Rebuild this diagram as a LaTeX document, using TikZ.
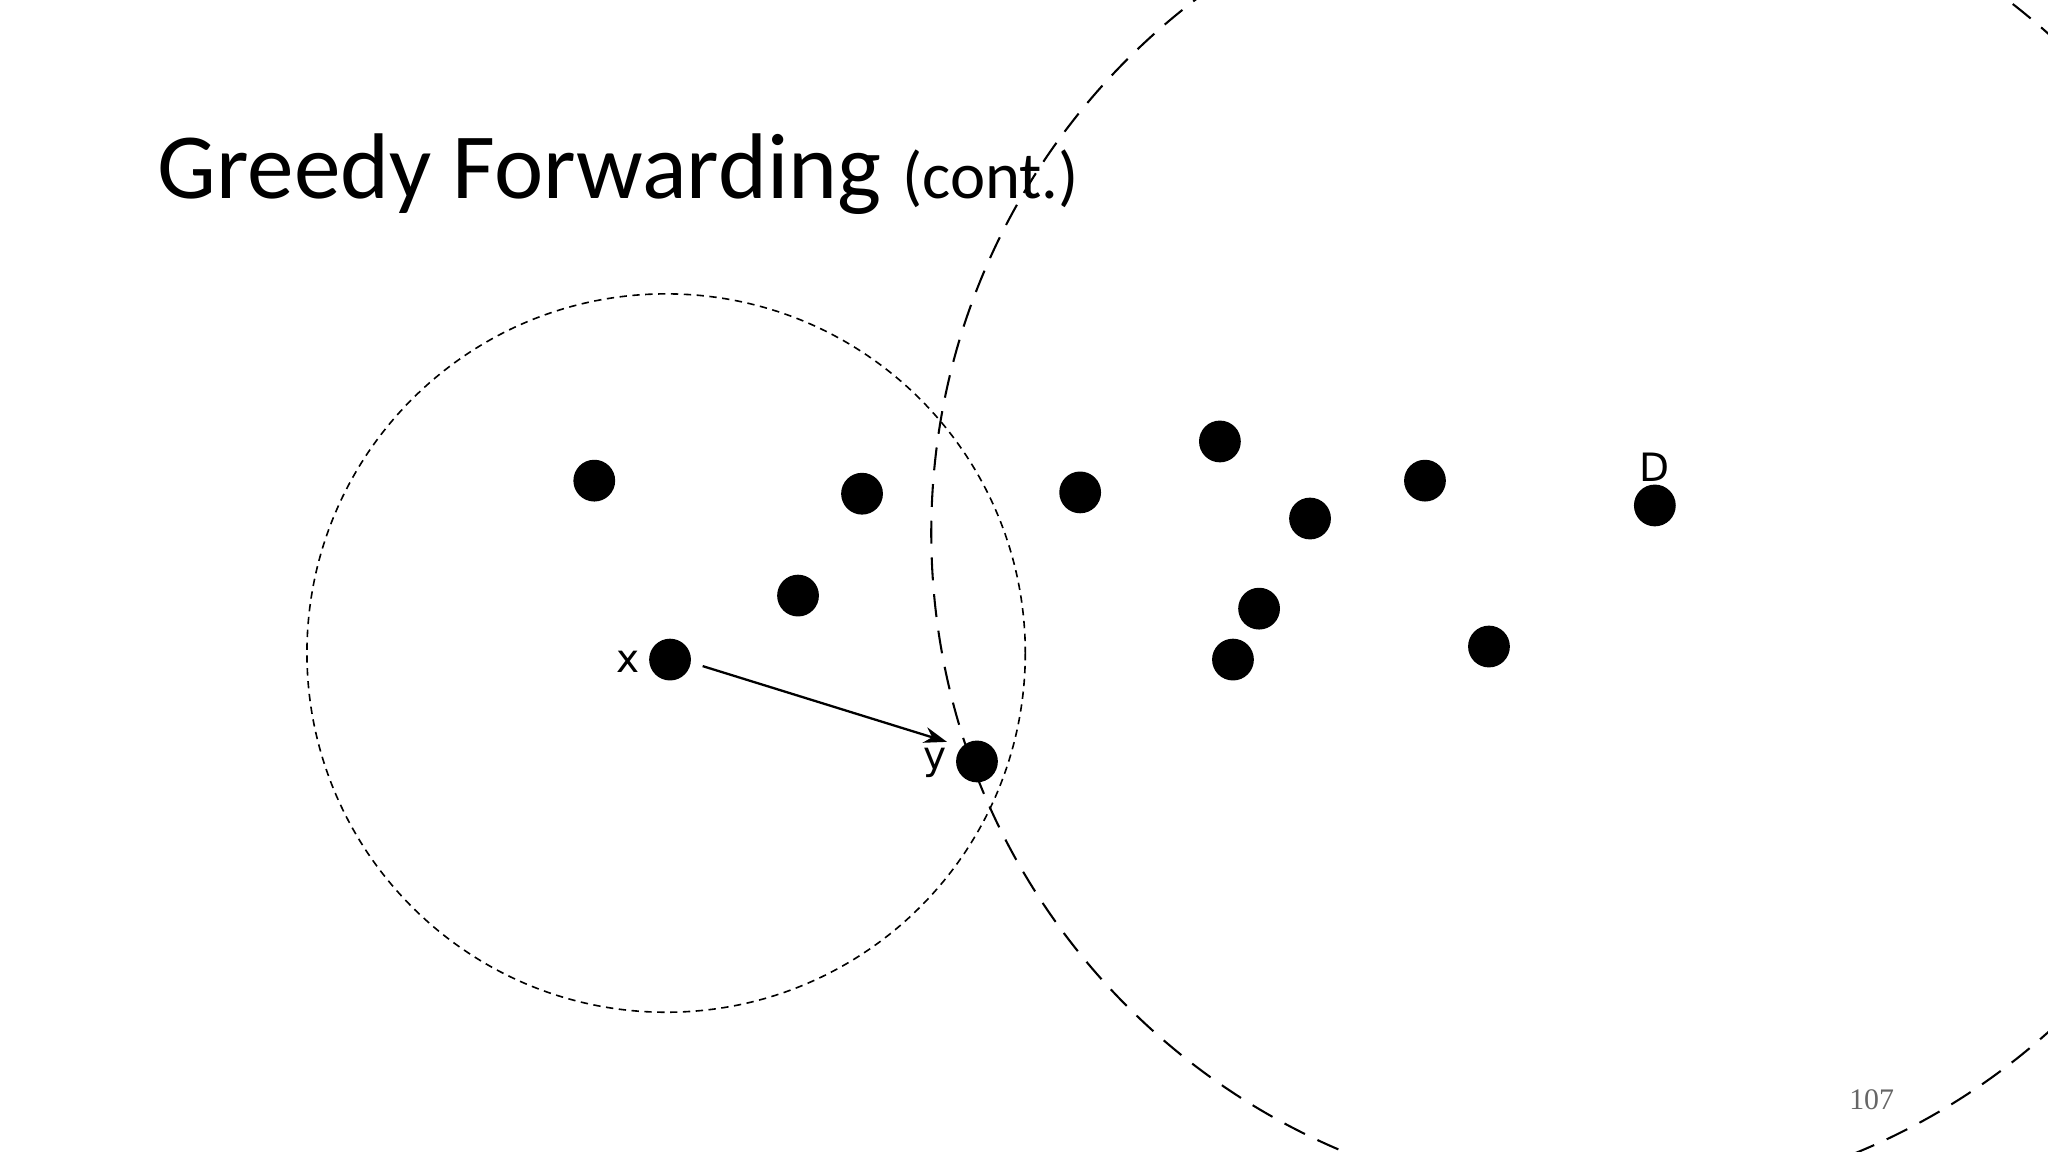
\documentclass[tikz,border=0pt]{standalone}
\usepackage{fontspec}
\setmainfont{Carlito}
\newfontfamily\numfont{Liberation Serif}
\newfontfamily\labfont{DejaVu Sans}
\usetikzlibrary{arrows.meta}
\begin{document}
\begin{tikzpicture}[x=0.01cm,y=-0.01cm,
  dot/.style={circle,fill=black,inner sep=0pt,minimum size=32*0.01cm},
  lab/.style={font=\labfont\fontsize{8.5}{10}\selectfont}]
\useasboundingbox (0,0) rectangle (1568,882);
\clip (0,0) rectangle (1568,882);
\node[anchor=base west,inner sep=0pt,font=\fontsize{20.3}{24}\selectfont] (title) at (120,152) {Greedy Forwarding {\fontsize{14.5}{17}\selectfont (cont.)}};
\draw[dash pattern=on 1.6pt off 1.2pt,line width=0.35pt] (510,500) circle (275);
\draw[dash pattern=on 5pt off 3pt,line width=0.45pt] (1226,408) circle (513);
\node[dot] (a) at (455,368) {};
\node[dot] (b) at (660,378) {};
\node[dot] (c) at (611,456) {};
\node[dot] (x) at (513,505) {};
\node[dot] (y) at (748,583) {};
\node[dot] (d) at (827,377) {};
\node[dot] (e) at (934,338) {};
\node[dot] (f) at (1003,397) {};
\node[dot] (g) at (1091,368) {};
\node[dot] (h) at (964,466) {};
\node[dot] (i) at (944,505) {};
\node[dot] (j) at (1140,495) {};
\node[dot] (D) at (1267,387) {};
\node[lab] (xl) at (481,507) {x};
\node[lab] (yl) at (716,584) {y};
\node[lab] (Dl) at (1267,358) {D};
\coordinate (s) at (538,510);
\coordinate (t) at (725,568);
\draw[-{Stealth[length=5pt,width=3.5pt]},line width=0.5pt] (s) -- (t);
\node[font=\numfont\fontsize{6.5}{8}\selectfont,text=black!60] (pg) at (1433,842) {107};
\end{tikzpicture}
\end{document}
